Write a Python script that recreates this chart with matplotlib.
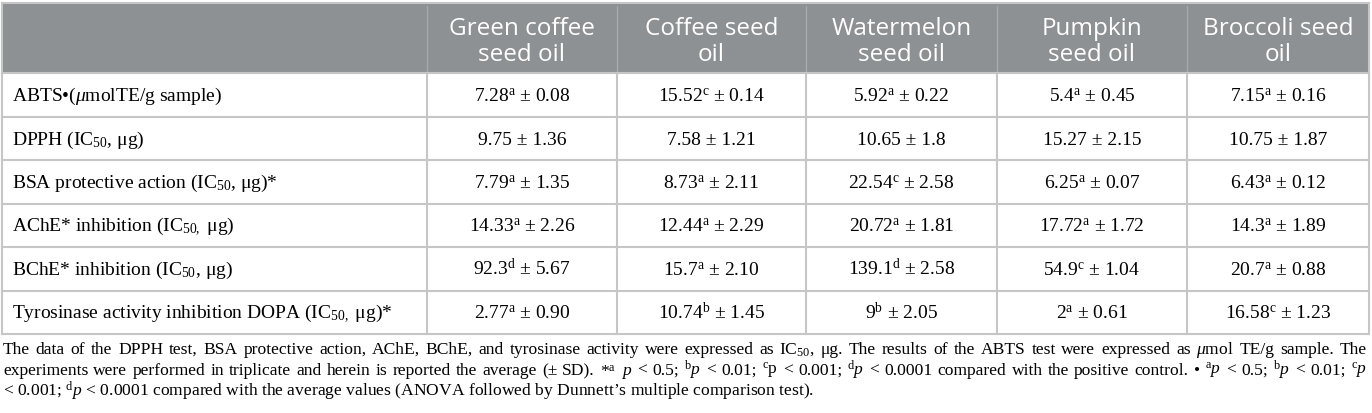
import matplotlib
matplotlib.use('Agg')
import matplotlib.pyplot as plt
from matplotlib.patches import Rectangle

plt.rcParams['mathtext.fontset'] = 'custom'
plt.rcParams['mathtext.rm'] = 'Liberation Serif'
plt.rcParams['mathtext.it'] = 'Liberation Serif:italic'
plt.rcParams['mathtext.bf'] = 'Liberation Serif:bold'

# table content
columns = ["Green coffee\nseed oil", "Coffee seed\noil", "Watermelon\nseed oil",
           "Pumpkin\nseed oil", "Broccoli seed\noil"]
row_labels = ["ABTS\u2022($\\mu$molTE/g sample)",
              "DPPH (IC$_{50}$, \u03bcg)",
              "BSA protective action (IC$_{50}$, \u03bcg)*",
              "AChE* inhibition (IC$_{50,}$ \u03bcg)",
              "BChE* inhibition (IC$_{50}$, \u03bcg)",
              "Tyrosinase activity inhibition DOPA (IC$_{50,}$ \u03bcg)*"]
means = [["7.28", "15.52", "5.92", "5.4", "7.15"],
         ["9.75", "7.58", "10.65", "15.27", "10.75"],
         ["7.79", "8.73", "22.54", "6.25", "6.43"],
         ["14.33", "12.44", "20.72", "17.72", "14.3"],
         ["92.3", "15.7", "139.1", "54.9", "20.7"],
         ["2.77", "10.74", "9", "2", "16.58"]]
letters = [["a", "c", "a", "a", "a"],
           ["", "", "", "", ""],
           ["a", "a", "c", "a", "a"],
           ["a", "a", "a", "a", "a"],
           ["d", "a", "d", "c", "a"],
           ["a", "b", "b", "a", "c"]]
sds = [["0.08", "0.14", "0.22", "0.45", "0.16"],
       ["1.36", "1.21", "1.8", "2.15", "1.87"],
       ["1.35", "2.11", "2.58", "0.07", "0.12"],
       ["2.26", "2.29", "1.81", "1.72", "1.89"],
       ["5.67", "2.10", "2.58", "1.04", "0.88"],
       ["0.90", "1.45", "2.05", "0.61", "1.23"]]

caption = [
    "The data of the DPPH test, BSA protective action, AChE, BChE, and tyrosinase activity were "
    "expressed as IC$_{50}$, \u03bcg. The results of the ABTS test were expressed as $\\mu$mol TE/g sample. The",
    "experiments were performed in triplicate and herein is reported the average (\u00b1 SD). "
    "*$^{\\mathrm{a}}$ $p$ < 0.5; $^{\\mathrm{b}}p$ < 0.01; $^{\\mathrm{c}}$p < 0.001; $^{\\mathrm{d}}p$ < 0.0001 "
    "compared with the positive control. \u2022 $^{\\mathrm{a}}p$ < 0.5; $^{\\mathrm{b}}p$ < 0.01; $^{\\mathrm{c}}p$",
    "< 0.001; $^{\\mathrm{d}}p$ < 0.0001 compared with the average values "
    "(ANOVA followed by Dunnett\u2019s multiple comparison test).",
]

W, H = 1372, 413
fig = plt.figure(figsize=(W / 100, H / 100), dpi=100)
ax = fig.add_axes([0, 0, 1, 1])
ax.set_xlim(0, W)
ax.set_ylim(H, 0)
ax.axis('off')

serif = ['Liberation Serif', 'DejaVu Serif']
xe = [2, 427, 617, 806, 997, 1187, 1369]
ye = [3, 73, 116.5, 160, 203.5, 247, 290.5, 334]
hdr = '#8d9194'
grid = '#c6c6c6'

# header band
ax.add_patch(Rectangle((xe[0], ye[0]), xe[-1] - xe[0], ye[1] - ye[0], color=hdr, lw=0))
for x in xe[1:-1]:
    ax.plot([x, x], [ye[0] + 3, ye[1]], color='#a7aaac', lw=1)
for j, c in enumerate(columns):
    ax.text((xe[j + 1] + xe[j + 2]) / 2, (ye[0] + ye[1]) / 2 + 4, c, ha='center', va='center',
            color='white', fontsize=17.5, family='Open Sans', linespacing=1.12)

# grid lines
for y in ye[1:]:
    ax.plot([xe[0], xe[-1]], [y, y], color=grid, lw=1.5)
for x in xe:
    ax.plot([x, x], [ye[1], ye[-1]], color=grid, lw=1.5)
ax.plot([xe[0], xe[-1]], [ye[0], ye[0]], color=grid, lw=1.5)
for x in (xe[0], xe[-1]):
    ax.plot([x, x], [ye[0], ye[1]], color=grid, lw=1.5)

# body
for i, lab in enumerate(row_labels):
    yb = (ye[i + 1] + ye[i + 2]) / 2 + 6.5
    ax.text(12, yb, lab, ha='left', va='baseline', fontsize=14, family=serif)
    for j in range(len(columns)):
        s = means[i][j]
        if letters[i][j]:
            s += "$^{\\mathrm{%s}}$" % letters[i][j]
        s += " \u00b1 " + sds[i][j]
        ax.text((xe[j + 1] + xe[j + 2]) / 2, yb, s, ha='center', va='baseline',
                fontsize=14, family=serif)

# caption, first two lines justified
r = fig.canvas.get_renderer()
cap_y = [354, 375, 396]
for k, line in enumerate(caption):
    if k < 2:
        words = line.split(' ')
        objs = [ax.text(0, cap_y[k], w, ha='left', va='baseline', fontsize=12.6, family=serif)
                for w in words]
        wid = [o.get_window_extent(r).width for o in objs]
        gap = (1367 - 3 - sum(wid)) / (len(words) - 1)
        x = 3
        for o, w in zip(objs, wid):
            o.set_x(x)
            x += w + gap
    else:
        ax.text(3, cap_y[k], line, ha='left', va='baseline', fontsize=12.6, family=serif)

plt.savefig('out.png', dpi=100)
